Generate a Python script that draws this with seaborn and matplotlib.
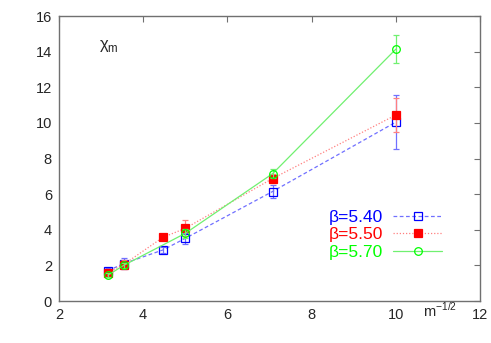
import matplotlib
matplotlib.use('agg')
import matplotlib.pyplot as plt
import seaborn as sns
import pandas as pd
from matplotlib.lines import Line2D

# data
x_540 = [3.162, 3.536, 4.472, 5.0, 7.071, 10.0]
y_540 = [1.70, 2.10, 2.87, 3.52, 6.15, 10.05]
e_540 = [0.15, 0.30, 0.15, 0.30, 0.35, 1.50]

x_550 = [3.162, 3.536, 4.472, 5.0, 7.071, 10.0]
y_550 = [1.60, 2.05, 3.58, 4.08, 6.88, 10.45]
e_550 = [0.15, 0.25, 0.15, 0.45, 0.25, 0.95]

x_570 = [3.162, 3.536, 5.0, 7.071, 10.0]
y_570 = [1.45, 2.00, 3.80, 7.15, 14.15]
e_570 = [0.10, 0.15, 0.25, 0.25, 0.80]

labels = ['β=5.40', 'β=5.50', 'β=5.70']
colors = ['#0000ff', '#ff0000', '#00ff00']
line_colors = ['#7070ff', '#ff8080', '#70f070']

sns.set_style('white')
plt.rcParams['font.family'] = ['Liberation Sans', 'DejaVu Sans']
plt.rcParams['font.size'] = 10.5

fig = plt.figure(figsize=(4.91, 3.43), dpi=100)
ax = fig.add_axes([0.120, 0.1224, 0.858, 0.8306])

series = [(x_540, y_540, e_540), (x_550, y_550, e_550), (x_570, y_570, e_570)]
styles = [
    dict(linestyle=(0, (3, 2)), marker='s', markerfacecolor='none', markersize=5.5),
    dict(linestyle=(0, (1, 1.5)), marker='s', markerfacecolor='#ff0000', markersize=5.5),
    dict(linestyle='-', marker='o', markerfacecolor='none', markersize=5.5),
]

handles = []
for (xs, ys, es), lab, c, lc, st in zip(series, labels, colors, line_colors, styles):
    df = pd.DataFrame({'x': xs, 'y': ys})
    ax.errorbar(xs, ys, yerr=es, fmt='none', ecolor=lc, elinewidth=0.9,
                capsize=2.5, capthick=0.9, linestyle=st['linestyle'])
    sns.lineplot(data=df, x='x', y='y', ax=ax, color=lc, linewidth=0.9,
                 linestyle=st['linestyle'], marker=st['marker'],
                 markerfacecolor=st['markerfacecolor'], markeredgecolor=c,
                 markersize=st['markersize'], markeredgewidth=0.9)
    handles.append(Line2D([], [], color=lc, linewidth=0.9, linestyle=st['linestyle'],
                          marker=st['marker'], markerfacecolor=st['markerfacecolor'],
                          markeredgecolor=c, markersize=st['markersize'],
                          markeredgewidth=0.9))

ax.set_xlim(2, 12)
ax.set_ylim(0, 16)
ax.set_xticks([2, 4, 6, 8, 10, 12])
ax.set_yticks([0, 2, 4, 6, 8, 10, 12, 14, 16])
ax.set_xlabel('')
ax.set_ylabel('')
ax.tick_params(direction='in', length=4, width=0.8, color='#707070',
               top=True, right=True, labelsize=10.5, pad=5)
for sp in ax.spines.values():
    sp.set_color('#707070')
    sp.set_linewidth(1.0)

ax.text(2.95, 14.3, 'χ$_\\mathregular{m}$', fontsize=12, ha='left', va='center')
ax.text(10.65, -0.55, 'm$^\\mathregular{-1/2}$', fontsize=10.5, ha='left', va='center')

leg = ax.legend(handles, labels, loc='upper right', bbox_to_anchor=(0.93, 0.35),
                frameon=False, markerfirst=False, handlelength=2.8,
                handletextpad=0.6, labelspacing=0.12, borderpad=0, fontsize=12.5)
for t, c in zip(leg.get_texts(), colors):
    t.set_color(c)

fig.savefig('out.png', dpi=100)
